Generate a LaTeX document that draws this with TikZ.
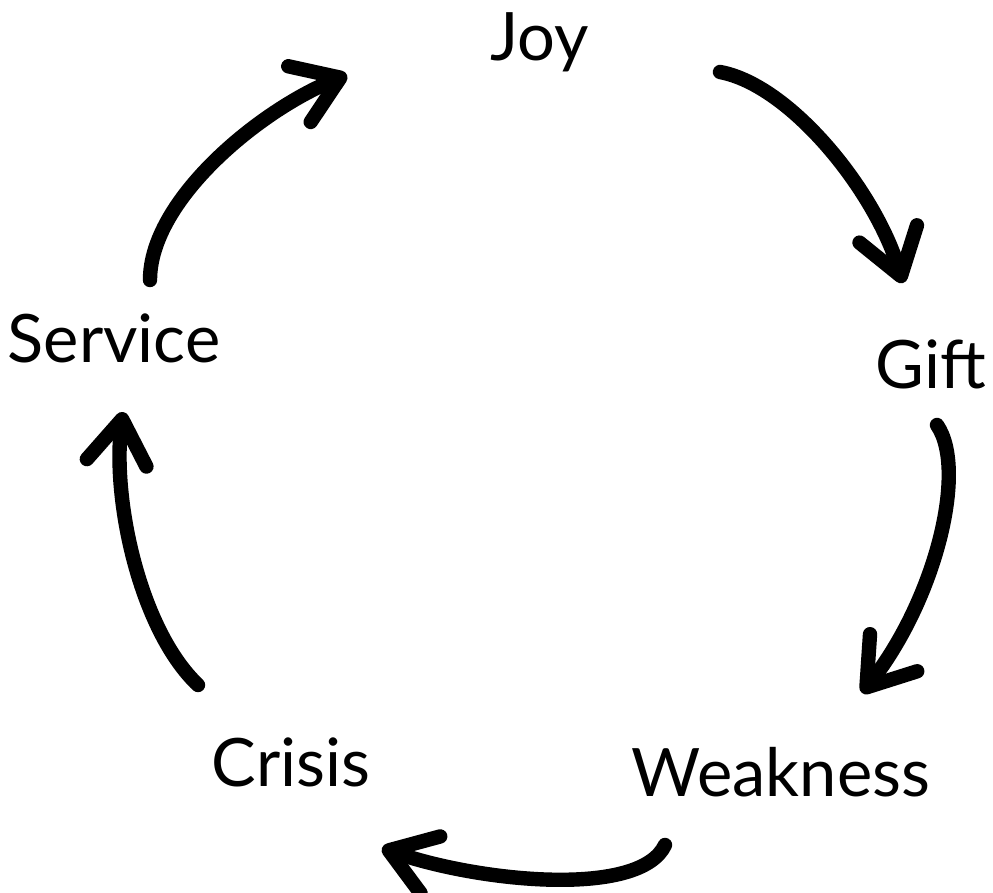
\documentclass[tikz,border=0pt]{standalone}
\usepackage{fontspec}
\setmainfont{Lato}
\usetikzlibrary{arrows.meta}

\tikzset{
    stage/.style={anchor=base, inner sep=0pt, font=\fontsize{47.5}{54}\selectfont},
    flow/.style={line width=0.36cm, line cap=round, -{Straight Barb[length=1.1cm, width=1.5cm, round]}}
}

\begin{document}
\begin{tikzpicture}[x=0.025cm, y=-0.025cm]
    \useasboundingbox (0, 0) rectangle (993, 893);

    \node[stage] at (540, 61) (joy) {Joy};
    \node[stage] at (931, 388) (gift) {Gift};
    \node[stage] at (781, 796) (weakness) {Weakness};
    \node[stage] at (291, 786) (crisis) {Crisis};
    \node[stage] at (114, 362) (service) {Service};

    \coordinate (joyOut) at (720, 72);
    \coordinate (giftIn) at (903, 283);
    \coordinate (giftOut) at (937, 425);
    \coordinate (weaknessIn) at (862, 693);
    \coordinate (weaknessOut) at (665, 845);
    \coordinate (crisisIn) at (382, 848);
    \coordinate (crisisOut) at (198, 685);
    \coordinate (serviceIn) at (123, 412);
    \coordinate (serviceOut) at (150, 280);
    \coordinate (joyIn) at (347, 75);

    \draw[flow] (joyOut) .. controls (790, 85) and (875, 190) .. (giftIn);
    \draw[flow] (giftOut) .. controls (968, 470) and (935, 600) .. (weaknessIn);
    \draw[flow] (weaknessOut) .. controls (640, 898) and (480, 882) .. (crisisIn);
    \draw[flow] (crisisOut) .. controls (140, 630) and (112, 500) .. (serviceIn);
    \draw[flow] (serviceOut) .. controls (150, 200) and (260, 110) .. (joyIn);
\end{tikzpicture}
\end{document}
